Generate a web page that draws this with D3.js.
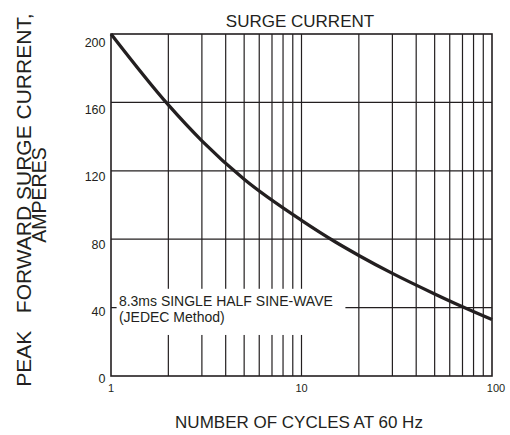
<!DOCTYPE html>
<html><head><meta charset="utf-8">
<script src="https://cdn.jsdelivr.net/npm/d3@7"></script>
<style>
body{margin:0;background:#fff}
svg{display:block}
text{font-family:"Liberation Sans",Arial,Helvetica,sans-serif;fill:#231f20}
</style>
</head><body><svg width="510" height="435"></svg>
<script>
// Data
const cycles = [1, 2, 3, 5, 10, 15, 20, 30, 50, 70, 100];
const amps   = [200, 158.5, 137.5, 115, 91, 78.5, 70.5, 60, 48, 40.5, 33];
const yTicks = [0, 40, 80, 120, 160, 200];
const xTickLabels = [1, 10, 100];
const xGrid = [2,3,4,5,6,7,8,9,10,20,30,40,50,60,70,80,90];
const yGrid = [40, 80, 120, 160];
const chartTitle = "SURGE CURRENT";
const xTitle = "NUMBER OF CYCLES AT 60 Hz";
const yTitle1 = "PEAK   FORWARD SURGE CURRENT,";
const yTitle2 = "AMPERES";
const noteLines = ["8.3ms SINGLE HALF SINE-WAVE", "(JEDEC Method)"];

const svg = d3.select("svg");
const ink = "#231f20";
const m = {left:111, right:492, top:34, bottom:376};

const x = d3.scaleLog().domain([1,100]).range([m.left, m.right]);
const y = d3.scaleLinear().domain([0,200]).range([m.bottom, m.top]);
// tick labels sit slightly below their gridlines in the reference
const yLab = d3.scaleLinear().domain([0,200]).range([m.bottom + 7, m.top + 13]);

// grid
const g = svg.append("g");
g.selectAll("line.v").data(xGrid).join("line")
  .attr("x1", d=>x(d)).attr("x2", d=>x(d))
  .attr("y1", y(0)).attr("y2", y(200))
  .attr("stroke", ink).attr("stroke-width", 1.2);
g.selectAll("line.h").data(yGrid).join("line")
  .attr("x1", x(1)).attr("x2", x(100))
  .attr("y1", d=>y(d)).attr("y2", d=>y(d))
  .attr("stroke", ink).attr("stroke-width", 1.2);

// note box (white background that interrupts grid)
const note = svg.append("g");
note.append("rect")
  .attr("x", x(1.07)).attr("y", y(51))
  .attr("width", x(17) - x(1.07)).attr("height", y(24) - y(51))
  .attr("fill", "#fff");
note.selectAll("text").data(noteLines).join("text")
  .attr("x", x(1.1))
  .attr("y", (d,i)=> y(40) - 2 + i*16)
  .attr("font-size", 14)
  .text(d=>d);

// frame
svg.append("rect")
  .attr("x", x(1)).attr("y", y(200))
  .attr("width", x(100)-x(1)).attr("height", y(0)-y(200))
  .attr("fill", "none").attr("stroke", ink).attr("stroke-width", 1.6);

// curve
const pts = cycles.map((c,i)=>[c, amps[i]]);
svg.append("path")
  .datum(pts)
  .attr("d", d3.line().x(d=>x(d[0])).y(d=>y(d[1])).curve(d3.curveMonotoneX))
  .attr("fill","none").attr("stroke", ink).attr("stroke-width", 3.3)
  .attr("stroke-linecap","butt");

// y tick labels
svg.append("g").selectAll("text").data(yTicks).join("text")
  .attr("x", m.left - 5.5)
  .attr("y", d=> yLab(d))
  .attr("text-anchor","end")
  .attr("font-size", 12.5)
  .text(d=>d);

// x tick labels
svg.append("g").selectAll("text").data(xTickLabels).join("text")
  .attr("x", d=> x(d) + (d === 100 ? 4 : 0))
  .attr("y", m.bottom + 16)
  .attr("text-anchor","middle")
  .attr("font-size", 11)
  .text(d=>d);

// titles
svg.append("text").attr("x", 300).attr("y", 26.5)
  .attr("text-anchor","middle").attr("font-size", 17).text(chartTitle);
svg.append("text").attr("x", 299).attr("y", 428)
  .attr("text-anchor","middle").attr("font-size", 17).text(xTitle);

const yt = svg.append("g").attr("transform","rotate(-90)");
yt.append("text").attr("x", -200).attr("y", 31)
  .attr("text-anchor","middle").attr("font-size", 21)
  .style("white-space","pre").text(yTitle1);
yt.append("text").attr("x", -195).attr("y", 46)
  .attr("text-anchor","middle").attr("font-size", 19.5)
  .text(yTitle2);
</script>
</body></html>
